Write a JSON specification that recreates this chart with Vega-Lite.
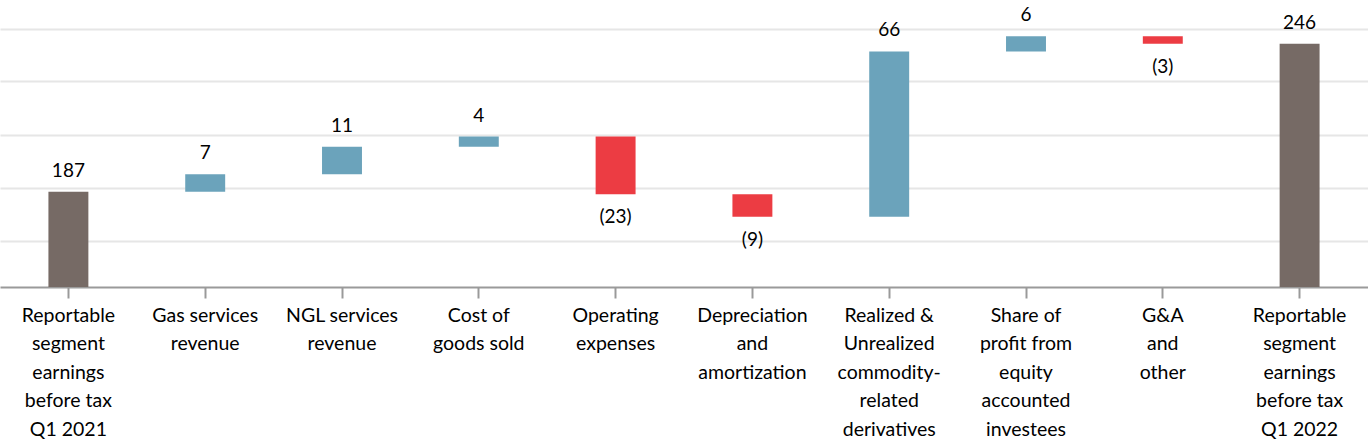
{
  "$schema": "https://vega.github.io/schema/vega-lite/v6.json",
  "width": 1368,
  "height": 287,
  "autosize": "none",
  "padding": {"left": 0, "top": 0, "right": 0, "bottom": 153},
  "background": "white",
  "config": {"view": {"stroke": null}},
  "data": {
    "values": [
      {"label": "Reportable|segment|earnings|before tax|Q1 2021", "start": 0, "end": 187, "type": "total", "text": "187"},
      {"label": "Gas services|revenue", "start": 187, "end": 194, "type": "inc", "text": "7"},
      {"label": "NGL services|revenue", "start": 194, "end": 205, "type": "inc", "text": "11"},
      {"label": "Cost of|goods sold", "start": 205, "end": 209, "type": "inc", "text": "4"},
      {"label": "Operating|expenses", "start": 209, "end": 186, "type": "dec", "text": "(23)"},
      {"label": "Depreciation|and|amortization", "start": 186, "end": 177, "type": "dec", "text": "(9)"},
      {"label": "Realized &|Unrealized|commodity-|related|derivatives", "start": 177, "end": 243, "type": "inc", "text": "66"},
      {"label": "Share of|profit from|equity|accounted|investees", "start": 243, "end": 249, "type": "inc", "text": "6"},
      {"label": "G&A|and|other", "start": 249, "end": 246, "type": "dec", "text": "(3)"},
      {"label": "Reportable|segment|earnings|before tax|Q1 2022", "start": 0, "end": 246, "type": "total", "text": "246"}
    ]
  },
  "encoding": {
    "x": {
      "field": "label",
      "type": "nominal",
      "sort": null,
      "title": null,
      "scale": {"paddingInner": 0.708, "paddingOuter": 0.354},
      "axis": {
        "labelAngle": 0,
        "labelExpr": "split(datum.label, '|')",
        "labelFont": "Lato",
        "labelFontSize": 19.5,
        "labelColor": "#000000",
        "labelLineHeight": 28.6,
        "labelPadding": 8,
        "labelLimit": 0,
        "domainColor": "#9a9a9a",
        "domainWidth": 2,
        "tickColor": "#9a9a9a",
        "tickWidth": 2,
        "tickSize": 11,
        "grid": false
      }
    }
  },
  "layer": [
    {
      "mark": {"type": "bar"},
      "encoding": {
        "y": {
          "field": "start",
          "type": "quantitative",
          "title": null,
          "scale": {"domain": [149, 263.5], "clamp": true, "nice": false, "zero": false},
          "axis": {
            "values": [167.5, 188.3, 209.6, 231.2, 252],
            "labels": false,
            "ticks": false,
            "domain": false,
            "grid": true,
            "gridColor": "#e6e6e6",
            "gridWidth": 2
          }
        },
        "y2": {"field": "end"},
        "color": {
          "field": "type",
          "type": "nominal",
          "legend": null,
          "scale": {"domain": ["total", "inc", "dec"], "range": ["#766a65", "#6ba3bb", "#ec3c43"]}
        }
      }
    },
    {
      "transform": [{"filter": "datum.type != 'dec'"}],
      "mark": {"type": "text", "baseline": "bottom", "dy": -11, "font": "Lato", "fontSize": 19, "color": "#000000"},
      "encoding": {
        "y": {"field": "end", "type": "quantitative"},
        "text": {"field": "text"}
      }
    },
    {
      "transform": [{"filter": "datum.type == 'dec'"}],
      "mark": {"type": "text", "baseline": "top", "dy": 14, "font": "Lato", "fontSize": 19, "color": "#000000"},
      "encoding": {
        "y": {"field": "end", "type": "quantitative"},
        "text": {"field": "text"}
      }
    }
  ]
}
